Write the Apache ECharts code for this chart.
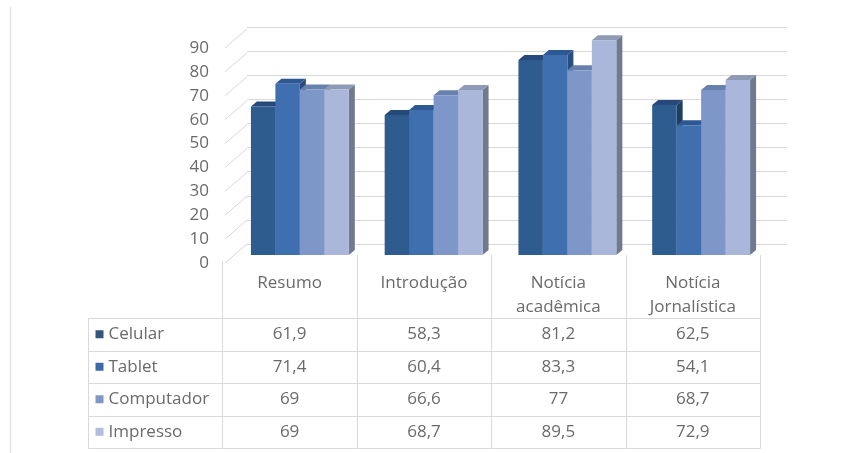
<!DOCTYPE html>
<html>
<head>
<meta charset="utf-8">
<script src="https://cdn.jsdelivr.net/npm/echarts@6/dist/echarts.min.js"></script>
<style>
  html, body { margin: 0; padding: 0; background: #ffffff; }
  #chart { width: 864px; height: 453px; }
</style>
</head>
<body>
<div id="chart"></div>
<script>
// Categories (header row of the data table) and series values
const categories = ['Resumo', 'Introdução', 'Notícia\nacadêmica', 'Notícia\nJornalística'];
const seriesNames = ['Celular', 'Tablet', 'Computador', 'Impresso'];
const celular    = [61.9, 58.3, 81.2, 62.5];
const tablet     = [71.4, 60.4, 83.3, 54.1];
const computador = [69, 66.6, 77, 68.7];
const impresso   = [69, 68.7, 89.5, 72.9];
const yTicks = [0, 10, 20, 30, 40, 50, 60, 70, 80, 90];

const seriesValues = [celular, tablet, computador, impresso];

// front / side / top shades for the pseudo-3D columns
const palette = [
  { front: '#2f5c8f', side: '#1e3d63', top: '#25497a', key: '#34537f' },
  { front: '#3f6fae', side: '#2a4d7e', top: '#2e5893', key: '#3f6aa6' },
  { front: '#7d97c9', side: '#55698f', top: '#6880ae', key: '#8097c6' },
  { front: '#aab7da', side: '#6f7a90', top: '#8f9ab5', key: '#b1bddd' }
];

const FONT = '"Open Sans", "Liberation Sans", sans-serif';
const TEXT = '#6a6a6a';
const LINE = '#d9d9d9';
const fmt = v => String(v).replace('.', ',');

const chart = echarts.init(document.getElementById('chart'), null, { renderer: 'canvas' });

// depth offsets of the back wall and of the columns
const WALL_DX = 22, WALL_DY = -19;
const BAR_DX = 6, BAR_DY = 5;

const barSeries = seriesValues.map((vals, s) => ({
  type: 'custom',
  name: seriesNames[s],
  xAxisIndex: 2,
  yAxisIndex: 2,
  data: vals.map((v, i) => [i, v]),
  renderItem: function (params, api) {
    const ci = api.value(0);
    const v = api.value(1);
    const base = api.coord([ci, 0]);
    const top = api.coord([ci, v]);
    const band = api.size([1, 0])[0];
    const bw = band * 0.183;
    const x = base[0] - 2 * bw + s * bw;
    const c = palette[s];
    return {
      type: 'group',
      children: [
        {
          type: 'polygon',
          shape: { points: [[x + bw, top[1]], [x + bw + BAR_DX, top[1] - BAR_DY], [x + bw + BAR_DX, base[1] - BAR_DY], [x + bw, base[1]]] },
          style: { fill: c.side }
        },
        {
          type: 'polygon',
          shape: { points: [[x, top[1]], [x + bw, top[1]], [x + bw + BAR_DX, top[1] - BAR_DY], [x + BAR_DX, top[1] - BAR_DY]] },
          style: { fill: c.top }
        },
        {
          type: 'rect',
          shape: { x: x, y: top[1], width: bw, height: base[1] - top[1] },
          style: { fill: c.front }
        }
      ]
    };
  }
}));

// table body cells: [column, row]; column 0 holds the legend key
const bodyCells = [];
for (let r = 0; r < seriesNames.length; r++) {
  for (let c = 0; c <= categories.length; c++) bodyCells.push([c, r]);
}

const option = {
  animation: false,
  backgroundColor: '#ffffff',
  graphic: [
    { type: 'line', shape: { x1: 10.5, y1: 7, x2: 10.5, y2: 453 }, style: { stroke: '#e2e2e2', lineWidth: 1.5 } }
  ],
  grid: [
    { left: 247, width: 540, top: 27, height: 217 },   // back wall
    { left: 225, width: 535, top: 48, height: 215 },   // front value axis
    { left: 233, width: 535, top: 39, height: 216 },   // columns
    { left: 88, width: 672, top: 255, height: 63 },    // table header
    { left: 88, width: 672, top: 318, height: 130 }    // table body
  ],
  xAxis: [
    { gridIndex: 0, type: 'value', min: 0, max: 1, show: false },
    { gridIndex: 1, type: 'value', min: 0, max: 1, show: false },
    { gridIndex: 2, type: 'category', data: categories, show: false },
    { gridIndex: 3, type: 'category', data: [''].concat(categories), show: false },
    { gridIndex: 4, type: 'category', data: [''].concat(categories), show: false }
  ],
  yAxis: [
    {
      gridIndex: 0, type: 'value', min: 0, max: 90, interval: 10,
      axisLine: { show: false }, axisTick: { show: false }, axisLabel: { show: false },
      splitLine: { lineStyle: { color: LINE, width: 1 } }
    },
    {
      gridIndex: 1, type: 'value', min: 0, max: 90, interval: 10,
      axisLine: { show: false }, axisTick: { show: false }, splitLine: { show: false },
      axisLabel: { color: TEXT, fontFamily: FONT, fontSize: 17, margin: 16 }
    },
    { gridIndex: 2, type: 'value', min: 0, max: 90, show: false },
    { gridIndex: 3, type: 'value', min: 0, max: 1, show: false },
    { gridIndex: 4, type: 'category', data: seriesNames, inverse: true, show: false }
  ],
  series: [
    // side wall: slanted lines joining the value labels to the back-wall grid
    {
      type: 'custom',
      xAxisIndex: 1,
      yAxisIndex: 1,
      data: yTicks.map(t => [0, t]),
      renderItem: function (params, api) {
        const p = api.coord([0, api.value(1)]);
        return {
          type: 'line',
          shape: { x1: p[0], y1: p[1], x2: p[0] + WALL_DX, y2: p[1] + WALL_DY },
          style: { stroke: LINE, lineWidth: 1 }
        };
      }
    }
  ].concat(barSeries).concat([
    // table header: category names
    {
      type: 'custom',
      xAxisIndex: 3,
      yAxisIndex: 3,
      data: categories.map((c, i) => [i + 1]),
      renderItem: function (params, api) {
        const col = api.value(0);
        const p = api.coord([col, 1]);
        const w = api.size([1, 0])[0];
        const bottom = api.coord([col, 0])[1];
        const xl = Math.round(p[0] - w / 2) + 0.5;
        const xr = Math.round(p[0] + w / 2) + 0.5;
        return {
          type: 'group',
          children: [
            { type: 'line', shape: { x1: xl, y1: p[1] + (col === 1 ? 6 : 0), x2: xl, y2: bottom }, style: { stroke: LINE, lineWidth: 1 } },
            { type: 'line', shape: { x1: xr, y1: p[1], x2: xr, y2: bottom }, style: { stroke: LINE, lineWidth: 1 } },
            {
              type: 'text',
              style: {
                text: categories[col - 1], x: p[0], y: p[1] + 16,
                align: 'center', verticalAlign: 'top', lineHeight: 24,
                fill: TEXT, font: '17px ' + FONT
              }
            }
          ]
        };
      }
    },
    // table body: legend keys and values
    {
      type: 'custom',
      xAxisIndex: 4,
      yAxisIndex: 4,
      data: bodyCells,
      renderItem: function (params, api) {
        const col = api.value(0);
        const row = api.value(1);
        const p = api.coord([col, row]);
        const sz = api.size([1, 1]);
        const x0 = Math.round(p[0] - sz[0] / 2) + 0.5;
        const y0 = Math.round(p[1] - sz[1] / 2) + 0.5;
        const x1 = Math.round(p[0] + sz[0] / 2) + 0.5;
        const y1 = Math.round(p[1] + sz[1] / 2) + 0.5;
        const children = [
          { type: 'polyline', shape: { points: [[x0, y0], [x1, y0], [x1, y1], [x0, y1], [x0, y0]] }, style: { stroke: LINE, fill: null, lineWidth: 1 } }
        ];
        if (col === 0) {
          children.push({ type: 'rect', shape: { x: x0 + 7, y: p[1] - 4, width: 8, height: 8 }, style: { fill: palette[row].key } });
          children.push({
            type: 'text',
            style: { text: seriesNames[row], x: x0 + 20, y: p[1], align: 'left', verticalAlign: 'middle', fill: TEXT, font: '17px ' + FONT }
          });
        } else {
          children.push({
            type: 'text',
            style: { text: fmt(seriesValues[row][col - 1]), x: p[0], y: p[1], align: 'center', verticalAlign: 'middle', fill: TEXT, font: '17px ' + FONT }
          });
        }
        return { type: 'group', children: children };
      }
    }
  ])
};

chart.setOption(option);
</script>
</body>
</html>
